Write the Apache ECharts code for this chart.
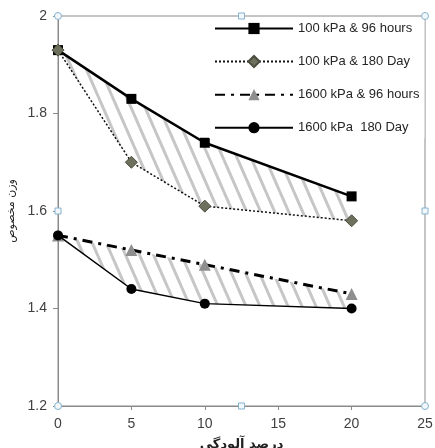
<!DOCTYPE html>
<html>
<head>
<meta charset="utf-8">
<script src="https://cdn.jsdelivr.net/npm/echarts@6/dist/echarts.min.js"></script>
<style>html,body{margin:0;padding:0;background:#fff;}#c{width:435px;height:448px;}</style>
</head>
<body>
<div id="c"></div>
<script>
const xValues = [0, 5, 10, 20];
const s1Values = [1.93, 1.83, 1.74, 1.63];   // 100 kPa & 96 hours
const s2Values = [1.93, 1.70, 1.61, 1.58];   // 100 kPa & 180 Day
const s3Values = [1.55, 1.52, 1.49, 1.43];   // 1600 kPa & 96 hours
const s4Values = [1.55, 1.44, 1.41, 1.40];   // 1600 kPa 180 Day
const seriesNames = ['100 kPa & 96 hours', '100 kPa & 180 Day', '1600 kPa & 96 hours', '1600 kPa  180 Day'];
const xTicks = [0, 5, 10, 15, 20, 25];
const yTicks = [1.2, 1.4, 1.6, 1.8, 2];
const xTitle = 'درصد آلودگی';
const yTitle = 'وزن مخصوص';

function makeHatch() {
  const w = 14, h = 32;
  const c = document.createElement('canvas');
  c.width = w; c.height = h;
  const g = c.getContext('2d');
  g.strokeStyle = '#c6c6c6';
  g.lineWidth = 3;
  [[0,0],[-w,0],[w,0],[0,-h],[0,h]].forEach(([ox,oy]) => {
    g.beginPath(); g.moveTo(ox, oy); g.lineTo(ox + w, oy + h); g.stroke();
  });
  return c;
}
const hatch = makeHatch();

function bandSeries(upper, lower) {
  return {
    type: 'custom',
    silent: true,
    z: 1,
    data: xValues.map((x, i) => [x, upper[i], lower[i]]),
    encode: { x: 0, y: [1, 2] },
    renderItem: function (params, api) {
      if (params.dataIndex !== 0) return null;
      const pts = [];
      for (let i = 0; i < xValues.length; i++) pts.push(api.coord([xValues[i], upper[i]]));
      for (let i = xValues.length - 1; i >= 0; i--) pts.push(api.coord([xValues[i], lower[i]]));
      return { type: 'polygon', shape: { points: pts }, style: { fill: { image: hatch, repeat: 'repeat' }, stroke: null } };
    }
  };
}

const chart = echarts.init(document.getElementById('c'), null, { renderer: 'canvas' });
const axisGray = '#8a8a8a';
const labelFont = 'Liberation Sans';

chart.setOption({
  animation: false,
  backgroundColor: '#fff',
  grid: { left: 58, right: 10, top: 16, bottom: 42, outerBoundsMode: 'none', containLabel: false,
          show: true, borderColor: axisGray, borderWidth: 1, backgroundColor: 'transparent' },
  legend: {
    data: seriesNames,
    orient: 'vertical',
    left: 209, top: 18,
    padding: [4, 5],
    itemWidth: 78, itemHeight: 14, itemGap: 20,
    backgroundColor: '#fff',
    textStyle: { fontFamily: labelFont, fontSize: 13, color: '#262626' }
  },
  xAxis: {
    type: 'value', min: xTicks[0], max: xTicks[xTicks.length - 1], interval: 5,
    name: xTitle, nameLocation: 'middle', nameGap: 32,
    nameTextStyle: { fontFamily: 'DejaVu Sans', fontSize: 13, fontWeight: 'bold', color: '#222' },
    axisLine: { lineStyle: { color: axisGray, width: 1 } },
    axisTick: { show: true, length: 4, lineStyle: { color: axisGray } },
    axisLabel: { fontFamily: labelFont, fontSize: 14, color: '#404040', margin: 11 },
    splitLine: { show: false }
  },
  yAxis: {
    type: 'value', min: yTicks[0], max: yTicks[yTicks.length - 1], interval: 0.2,
    name: yTitle, nameLocation: 'middle', nameGap: 40, nameRotate: 90,
    nameTextStyle: { fontFamily: 'DejaVu Sans', fontSize: 11, color: '#222' },
    axisLine: { show: true, lineStyle: { color: axisGray, width: 1 } },
    axisTick: { show: true, length: 5, lineStyle: { color: axisGray } },
    axisLabel: { fontFamily: labelFont, fontSize: 14, color: '#404040', margin: 11,
      formatter: v => String(Math.round(v * 10) / 10) },
    splitLine: { show: false }
  },
  series: [
    bandSeries(s1Values, s2Values),
    bandSeries(s3Values, s4Values),
    {
      name: seriesNames[0], type: 'line', z: 3,
      data: xValues.map((x, i) => [x, s1Values[i]]),
      symbol: 'rect', symbolSize: 10,
      lineStyle: { color: '#000', width: 2.5 },
      itemStyle: { color: '#000' }
    },
    {
      name: seriesNames[1], type: 'line', z: 4,
      data: xValues.map((x, i) => [x, s2Values[i]]),
      symbol: 'diamond', symbolSize: 12,
      lineStyle: { color: '#111', width: 1.5, type: [2, 2] },
      itemStyle: { color: '#6d705d', borderColor: '#4a4c3e', borderWidth: 1 }
    },
    {
      name: seriesNames[2], type: 'line', z: 3,
      data: xValues.map((x, i) => [x, s3Values[i]]),
      symbol: 'triangle', symbolSize: 12,
      lineStyle: { color: '#000', width: 3, type: [10, 6, 3, 6] },
      itemStyle: { color: '#8e8e8e' }
    },
    {
      name: seriesNames[3], type: 'line', z: 4,
      data: xValues.map((x, i) => [x, s4Values[i]]),
      symbol: 'circle', symbolSize: 10,
      lineStyle: { color: '#000', width: 1.5 },
      itemStyle: { color: '#000' }
    }
  ]
});

// selection handles around the plot frame (decorative)
const x0 = xTicks[0], x1 = xTicks[xTicks.length - 1], y0 = yTicks[0], y1 = yTicks[yTicks.length - 1];
const corners = [[x0, y1], [x1, y1], [x0, y0], [x1, y0]];
const mids = [[(x0 + x1) / 2, y1], [(x0 + x1) / 2, y0], [x0, (y0 + y1) / 2], [x1, (y0 + y1) / 2]];
const hs = { fill: '#f2f7fb', stroke: '#86b3cf', lineWidth: 1 };
const els = [];
corners.forEach(p => { const q = chart.convertToPixel({ gridIndex: 0 }, p); els.push({ type: 'circle', shape: { cx: q[0], cy: q[1], r: 3.5 }, style: hs, z: 100 }); });
mids.forEach(p => { const q = chart.convertToPixel({ gridIndex: 0 }, p); els.push({ type: 'rect', shape: { x: q[0] - 3, y: q[1] - 3, width: 6, height: 6 }, style: hs, z: 100 }); });
chart.setOption({ graphic: { elements: els } });
</script>
</body>
</html>
